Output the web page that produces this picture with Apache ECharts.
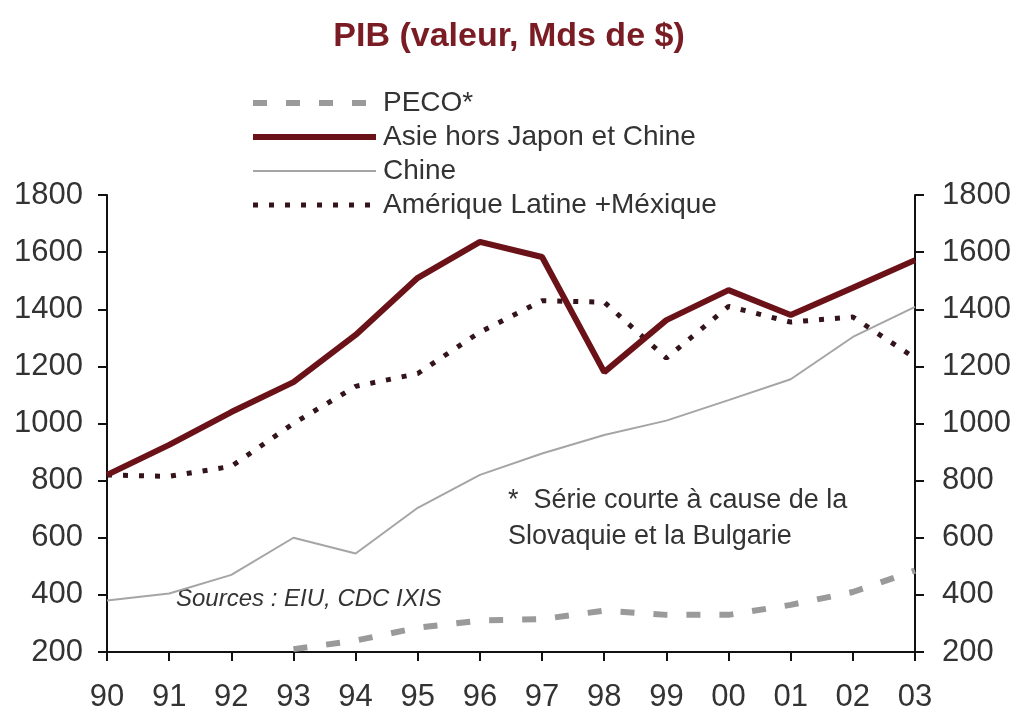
<!DOCTYPE html>
<html>
<head>
<meta charset="utf-8">
<script src="https://cdn.jsdelivr.net/npm/echarts@6/dist/echarts.min.js"></script>
<style>
  html, body { margin: 0; padding: 0; background: #fff; }
  #chart { width: 1019px; height: 714px; }
</style>
</head>
<body>
<div id="chart"></div>
<script>
// années
const years = ['90', '91', '92', '93', '94', '95', '96', '97', '98', '99', '00', '01', '02', '03']
// séries (Mds de $)
const peco = [null, null, null, 210, 240, 285, 310, 315, 345, 330, 330, 365, 410, 485]
const asie = [820, 925, 1040, 1145, 1310, 1510, 1636, 1583, 1180, 1362, 1467, 1380, 1475, 1572]
const chine = [380, 405, 470, 600, 545, 705, 820, 895, 960, 1010, 1082, 1155, 1303, 1408]
const amerique = [820, 815, 850, 1000, 1130, 1175, 1320, 1430, 1425, 1229, 1410, 1355, 1373, 1229]

const font = 'Liberation Sans, Arial, sans-serif'
const chart = echarts.init(document.getElementById('chart'))

const styles = {
  peco: { color: '#9a9a9a', width: 6, type: [14, 19] },
  asie: { color: '#6a1218', width: 6 },
  chine: { color: '#a5a5a5', width: 2 },
  amerique: { color: '#33141a', width: 5, type: [5, 11] }
}

function yAxisOf(pos, margin) {
  return {
    type: 'value',
    position: pos,
    min: 200,
    max: 1800,
    interval: 200,
    axisLine: { show: true, lineStyle: { color: '#111', width: 2 } },
    axisTick: { show: true, length: 9, lineStyle: { color: '#111', width: 2 } },
    splitLine: { show: false },
    axisLabel: { color: '#333', fontSize: 31, fontFamily: font, margin: margin, formatter: v => String(v) }
  }
}

chart.setOption({
  animation: false,
  backgroundColor: '#fff',
  title: {
    text: 'PIB (valeur, Mds de $)',
    left: 504,
    textAlign: 'center',
    top: 15,
    textStyle: { color: '#7a1c24', fontSize: 34, fontWeight: 'bold', fontFamily: font }
  },
  legend: {
    orient: 'vertical',
    left: 245,
    top: 84,
    itemWidth: 123,
    itemHeight: 10,
    itemGap: 6,
    textStyle: { color: '#333', fontSize: 28, fontFamily: font, padding: [0, 0, 0, 2] },
    data: [
      { name: 'PECO*', lineStyle: styles.peco, itemStyle: { opacity: 0 } },
      { name: 'Asie hors Japon et Chine', lineStyle: styles.asie, itemStyle: { opacity: 0 } },
      { name: 'Chine', lineStyle: styles.chine, itemStyle: { opacity: 0 } },
      { name: 'Amérique Latine +Méxique', lineStyle: styles.amerique, itemStyle: { opacity: 0 } }
    ]
  },
  grid: { left: 107, right: 104, top: 195, bottom: 62 },
  xAxis: {
    type: 'category',
    data: years,
    boundaryGap: false,
    axisLine: { lineStyle: { color: '#111', width: 2 } },
    axisTick: { show: true, length: 9, lineStyle: { color: '#111', width: 2 } },
    axisLabel: { color: '#333', fontSize: 31, fontFamily: font, margin: 30 }
  },
  yAxis: [yAxisOf('left', 24), yAxisOf('right', 27)],
  series: [
    { name: 'PECO*', type: 'line', data: peco, symbol: 'none', lineStyle: styles.peco, itemStyle: { color: styles.peco.color }, z: 2 },
    { name: 'Asie hors Japon et Chine', type: 'line', data: asie, symbol: 'none', lineStyle: styles.asie, itemStyle: { color: styles.asie.color }, z: 4 },
    { name: 'Chine', type: 'line', data: chine, symbol: 'none', lineStyle: styles.chine, itemStyle: { color: styles.chine.color }, z: 1 },
    { name: 'Amérique Latine +Méxique', type: 'line', data: amerique, symbol: 'none', lineStyle: styles.amerique, itemStyle: { color: styles.amerique.color }, z: 3 }
  ],
  graphic: [
    {
      type: 'text',
      left: 508,
      top: 483,
      style: {
        text: '*  Série courte à cause de la\nSlovaquie et la Bulgarie',
        fill: '#333',
        font: '27px ' + font,
        lineHeight: 36
      }
    },
    {
      type: 'text',
      left: 176,
      top: 587,
      style: {
        text: 'Sources : EIU, CDC IXIS',
        fill: '#333',
        font: 'italic 24px ' + font
      }
    }
  ]
})
</script>
</body>
</html>
